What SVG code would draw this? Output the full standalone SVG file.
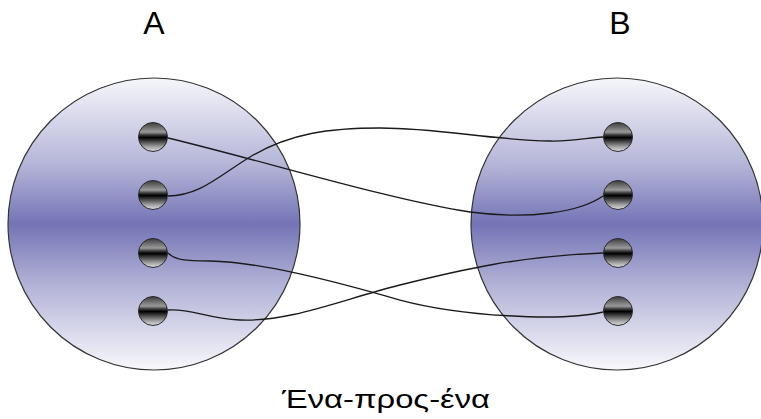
<svg xmlns="http://www.w3.org/2000/svg" width="761" height="419" viewBox="0 0 761 419">
<style>
.set{stroke:#333;stroke-width:1.2;fill:url(#setGrad)}
.dot{stroke:#2a2a2a;stroke-width:1;fill:url(#dotGrad)}
.wire{fill:none;stroke:#1a1a1a;stroke-width:1.3}
.lbl{font-family:"Liberation Sans",Arial,sans-serif;fill:#000}
</style>
<defs>
<linearGradient id="setGrad" x1="0" y1="0" x2="0" y2="1">
<stop offset="0" stop-color="#f6f6fb"/>
<stop offset="0.3" stop-color="#b4b4d8"/>
<stop offset="0.5" stop-color="#7474b6"/>
<stop offset="0.7" stop-color="#b0b0d6"/>
<stop offset="1" stop-color="#f8f8fc"/>
</linearGradient>
<linearGradient id="dotGrad" x1="0" y1="0" x2="0" y2="1">
<stop offset="0" stop-color="#3c3c3c"/>
<stop offset="0.33" stop-color="#9a9a9a"/>
<stop offset="0.44" stop-color="#333"/>
<stop offset="0.52" stop-color="#000"/>
<stop offset="0.62" stop-color="#333"/>
<stop offset="0.85" stop-color="#a8a8a8"/>
<stop offset="1" stop-color="#dedede"/>
</linearGradient>
</defs>
<g id="setA"><circle class="set" cx="154" cy="224" r="146"/></g>
<g id="setB"><circle class="set" cx="617" cy="224" r="146"/></g>
<g id="connectors">
<path class="wire" d="M168,138 C260,160 390,200 470,212 C530,220 580,212 603,196"/>
<path class="wire" d="M168,196 C200,196 220,175 250,157 C290,133 330,128 380,128 C440,128 490,140 550,141 C575,141.5 590,137 603,137"/>
<path class="wire" d="M168,253 C175,260 185,261 210,261 C260,262 330,280 400,300 C460,316 560,322 603,312"/>
<path class="wire" d="M168,310 C190,308 205,318 240,320 C290,322 340,300 400,285 C460,270 520,256 603,253"/>
</g>
<g id="a1"><circle class="dot" cx="153" cy="137" r="14.5"/></g>
<g id="a2"><circle class="dot" cx="153" cy="195" r="14.5"/></g>
<g id="a3"><circle class="dot" cx="153" cy="253" r="14.5"/></g>
<g id="a4"><circle class="dot" cx="153" cy="311" r="14.5"/></g>
<g id="b1"><circle class="dot" cx="618" cy="137" r="14.5"/></g>
<g id="b2"><circle class="dot" cx="618" cy="195" r="14.5"/></g>
<g id="b3"><circle class="dot" cx="618" cy="253" r="14.5"/></g>
<g id="b4"><circle class="dot" cx="618" cy="311" r="14.5"/></g>
<text class="lbl" x="154" y="34" font-size="32" text-anchor="middle">A</text>
<text class="lbl" x="620" y="34" font-size="32" text-anchor="middle">B</text>
<text class="lbl" x="282" y="408" font-size="25" textLength="208" lengthAdjust="spacingAndGlyphs">Ένα-προς-ένα</text>
</svg>
